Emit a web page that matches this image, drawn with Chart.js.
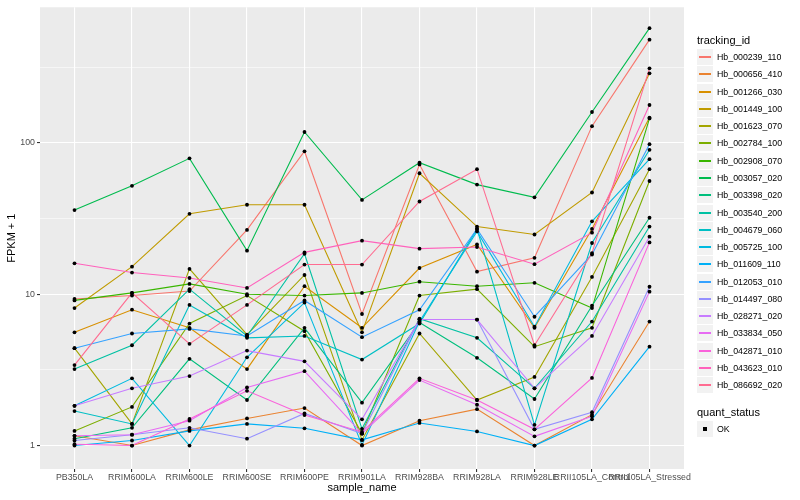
<!DOCTYPE html>
<html>
<head>
<meta charset="utf-8">
<script src="https://cdn.jsdelivr.net/npm/chart.js@4.4.1/dist/chart.umd.min.js"></script>
<style>
  body { margin: 0; background: #fff; font-family: "Liberation Sans", Arial, sans-serif; }
  #wrap { position: relative; width: 800px; height: 500px; }
  #legend { position: absolute; left: 0; top: 0; width: 800px; height: 500px; pointer-events: none; }
  .ttl { position: absolute; font-size: 11px; color: #000; white-space: nowrap; }
  .key { position: absolute; width: 16px; height: 16px; background: #F2F2F2; }
  .lab { position: absolute; font-size: 8.8px; color: #000; white-space: nowrap; }
</style>
</head>
<body>
<div id="wrap">
  <canvas id="chart" width="800" height="500"></canvas>
  <div id="legend"></div>
</div>
<script>
// sample names along x
var categories = ['PB350LA', 'RRIM600LA', 'RRIM600LE', 'RRIM600SE', 'RRIM600PE', 'RRIM901LA',
                  'RRIM928BA', 'RRIM928LA', 'RRIM928LE', 'RRII105LA_Control', 'RRII105LA_Stressed'];

// FPKM + 1 per tracking id
var hb_000239_110 = [9.3, 9.8, 10.5, 26.6, 88, 7.4, 72, 14.1, 17.4, 129, 481];
var hb_000656_410 = [1.16, 1.0, 1.27, 1.51, 1.77, 1.0, 1.46, 1.74, 1.0, 1.6, 6.6];
var hb_001266_030 = [5.6, 7.9, 6.0, 3.2, 11.3, 6.0, 14.9, 21.3, 6.0, 27, 147];
var hb_001449_100 = [8.1, 15.2, 34, 39, 39, 5.6, 63, 28, 24.8, 47, 288];
var hb_001623_070 = [4.4, 1.39, 14.7, 5.4, 13.4, 1.09, 5.5, 2.0, 2.84, 13, 67];
var hb_002784_100 = [1.25, 1.8, 6.4, 9.8, 5.7, 1.2, 9.8, 10.8, 4.5, 6.0, 56];
var hb_002908_070 = [9.1, 10.2, 11.7, 10, 9.8, 10.2, 12.1, 11.3, 11.9, 8.1, 145];
var hb_003057_020 = [36, 52, 79, 19.4, 118, 42, 74, 53, 43.7, 160, 573];
var hb_003398_020 = [1.11, 1.31, 3.74, 2.0, 6.0, 1.92, 6.5, 3.8, 2.03, 8.4, 32];
var hb_003540_200 = [3.2, 4.6, 10.8, 5.3, 18.5, 1.29, 6.9, 5.15, 2.39, 6.6, 28];
var hb_004679_060 = [1.69, 1.39, 8.5, 5.15, 5.3, 3.7, 6.4, 27, 1.37, 21.8, 90];
var hb_005725_100 = [1.83, 2.78, 1.0, 3.83, 8.8, 1.01, 6.6, 26, 6.1, 30.3, 78];
var hb_011609_110 = [1.0, 1.08, 1.25, 1.39, 1.3, 1.09, 1.41, 1.24, 1.0, 1.49, 4.5];
var hb_012053_010 = [4.4, 5.5, 5.9, 5.3, 9.1, 5.2, 7.9, 27, 7.1, 18.3, 98];
var hb_014497_080 = [1.08, 1.18, 1.31, 1.11, 1.63, 1.2, 6.8, 6.8, 1.28, 1.66, 11.2];
var hb_028271_020 = [1.83, 2.39, 2.88, 4.24, 3.6, 1.49, 6.8, 6.8, 2.39, 5.3, 24];
var hb_033834_050 = [1.16, 1.18, 1.46, 2.42, 3.1, 1.2, 2.71, 1.86, 1.15, 1.56, 10.4];
var hb_042871_010 = [1.02, 1.0, 1.5, 2.3, 1.59, 1.23, 2.78, 2.0, 1.28, 2.8, 22];
var hb_043623_010 = [16, 13.9, 12.8, 11, 18.9, 22.6, 20, 20.5, 15.8, 25.5, 178];
var hb_086692_020 = [3.4, 10.2, 4.7, 8.5, 15.7, 15.7, 41, 67, 4.6, 18.7, 311];

var trackingIds = ['Hb_000239_110', 'Hb_000656_410', 'Hb_001266_030', 'Hb_001449_100', 'Hb_001623_070',
                   'Hb_002784_100', 'Hb_002908_070', 'Hb_003057_020', 'Hb_003398_020', 'Hb_003540_200',
                   'Hb_004679_060', 'Hb_005725_100', 'Hb_011609_110', 'Hb_012053_010', 'Hb_014497_080',
                   'Hb_028271_020', 'Hb_033834_050', 'Hb_042871_010', 'Hb_043623_010', 'Hb_086692_020'];
var seriesValues = [hb_000239_110, hb_000656_410, hb_001266_030, hb_001449_100, hb_001623_070,
                    hb_002784_100, hb_002908_070, hb_003057_020, hb_003398_020, hb_003540_200,
                    hb_004679_060, hb_005725_100, hb_011609_110, hb_012053_010, hb_014497_080,
                    hb_028271_020, hb_033834_050, hb_042871_010, hb_043623_010, hb_086692_020];

var yMajor = [1, 10, 100];

// ggplot default hue palette for 20 groups
var palette = ['#F8766D', '#EA8331', '#D89000', '#C09B00', '#A3A500', '#7CAE00', '#39B600', '#00BB4E',
               '#00BF7D', '#00C1A3', '#00BFC4', '#00BAE0', '#00B0F6', '#35A2FF', '#9590FF', '#C77CFF',
               '#E76BF3', '#FA62DB', '#FF62BC', '#FF6C91'];

var FONT = '"Liberation Sans", Arial, sans-serif';

var datasets = seriesValues.map(function (vals, i) {
    return {
        label: trackingIds[i],
        data: vals.map(function (v, j) { return { x: j, y: v }; }),
        borderColor: palette[i],
        borderWidth: 1.1,
        pointRadius: 0,
        fill: false,
        tension: 0,
        order: 30 - i
    };
});

// all points in black on top of the lines
var allPoints = [];
seriesValues.forEach(function (vals) {
    vals.forEach(function (v, j) { allPoints.push({ x: j, y: v }); });
});
datasets.push({
    label: 'OK',
    data: allPoints,
    showLine: false,
    pointRadius: 1.9,
    pointBackgroundColor: '#000',
    pointBorderWidth: 0,
    order: 0
});

// y ticks: majors plus the log midpoints as minor grid
var yTicks = [];
yMajor.forEach(function (v) { yTicks.push(v); yTicks.push(Math.sqrt(v * v * 10)); });
function isMajor(v) { return yMajor.indexOf(v) >= 0; }

var panelBg = {
    id: 'panelBg',
    beforeDraw: function (chart) {
        var a = chart.chartArea, c = chart.ctx;
        c.save();
        c.fillStyle = '#EBEBEB';
        c.fillRect(a.left, a.top, a.right - a.left, a.bottom - a.top);
        c.restore();
    }
};

var ctx = document.getElementById('chart').getContext('2d');
new Chart(ctx, {
    type: 'line',
    data: { datasets: datasets },
    options: {
        responsive: false,
        animation: false,
        layout: { padding: { top: 5, right: 116, bottom: 0, left: 0 } },
        plugins: { legend: { display: false }, tooltip: { enabled: false } },
        scales: {
            x: {
                type: 'linear',
                min: -0.6,
                max: 10.6,
                afterBuildTicks: function (ax) {
                    ax.ticks = categories.map(function (c, i) { return { value: i }; });
                },
                afterFit: function (s) { s.height = 31; },
                ticks: {
                    callback: function (v) { return categories[v]; },
                    autoSkip: false,
                    maxRotation: 0,
                    minRotation: 0,
                    padding: 0,
                    color: '#4D4D4D',
                    font: { family: FONT, size: 8.8 }
                },
                grid: { color: '#FFFFFF', lineWidth: 1.1, tickColor: '#333333', tickLength: 3 },
                border: { display: false },
                title: {
                    display: true,
                    text: 'sample_name',
                    color: '#000',
                    font: { family: FONT, size: 11 },
                    padding: { top: 0, bottom: 5 }
                }
            },
            y: {
                type: 'logarithmic',
                min: 0.728,
                max: 787,
                afterBuildTicks: function (ax) {
                    ax.ticks = yTicks.map(function (v) { return { value: v }; });
                },
                afterFit: function (s) { s.width = 40; },
                ticks: {
                    callback: function (v) { return isMajor(v) ? String(v) : ''; },
                    padding: 2,
                    color: '#4D4D4D',
                    font: { family: FONT, size: 8.8 }
                },
                grid: {
                    color: '#FFFFFF',
                    lineWidth: function (c) { return isMajor(c.tick.value) ? 1.1 : 0.55; },
                    tickColor: function (c) { return isMajor(c.tick.value) ? '#333333' : 'rgba(0,0,0,0)'; },
                    tickLength: 3
                },
                border: { display: false },
                title: {
                    display: true,
                    text: 'FPKM + 1',
                    color: '#000',
                    font: { family: FONT, size: 11 },
                    padding: { top: 5, bottom: 0 }
                }
            }
        }
    },
    plugins: [panelBg]
});

// legend on the right, ggplot style
var leg = document.getElementById('legend');
function addDiv(cls, left, top, text) {
    var d = document.createElement('div');
    d.className = cls;
    d.style.left = left + 'px';
    d.style.top = top + 'px';
    if (text) d.textContent = text;
    leg.appendChild(d);
    return d;
}
addDiv('ttl', 697, 34, 'tracking_id');
trackingIds.forEach(function (id, i) {
    var top = Math.round(49 + i * 17.28);
    var k = addDiv('key', 697, top);
    var ln = document.createElement('div');
    ln.style.cssText = 'position:absolute;left:2px;right:2px;top:7px;height:1.5px;background:' + palette[i];
    k.appendChild(ln);
    addDiv('lab', 717, top + 3, id);
});
addDiv('ttl', 697, 406, 'quant_status');
var okKey = addDiv('key', 697, 421);
var dot = document.createElement('div');
dot.style.cssText = 'position:absolute;left:6px;top:6px;width:4px;height:4px;background:#000';
okKey.appendChild(dot);
addDiv('lab', 717, 424, 'OK');
</script>
</body>
</html>
